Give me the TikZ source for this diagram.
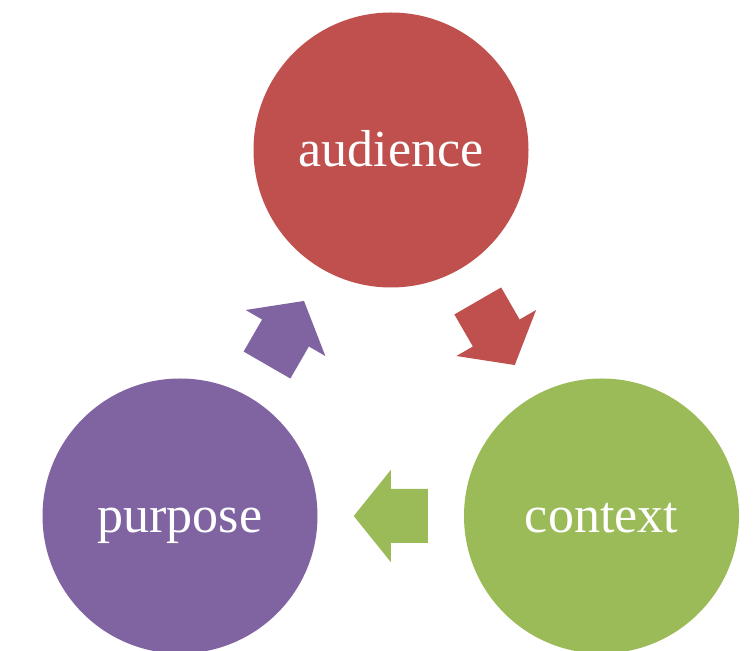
\documentclass[tikz,border=0pt]{standalone}
\usepackage{fontspec}
\setmainfont{Liberation Serif}
\usetikzlibrary{calc}
\definecolor{audred}{HTML}{C0504D}
\definecolor{ctxgreen}{HTML}{9BBB59}
\definecolor{purpurple}{HTML}{8064A2}
\tikzset{
  blob/.style={circle, minimum size=275pt, inner sep=0pt, draw=none,
    text=white, font=\fontsize{52}{60}\selectfont, text height=34pt, text depth=0pt},
  blockarrow/.pic={
    \fill[pic actions] (-37,27) -- (0,27) -- (0,46) -- (37,0) -- (0,-46) -- (0,-27) -- (-37,-27) -- cycle;
  }
}
\begin{document}
\begin{tikzpicture}[x=1pt,y=1pt]
\useasboundingbox (0,0) rectangle (756,651);
\node[blob, fill=audred] (aud) at (391,501) {audience};
\node[blob, fill=ctxgreen] (ctx) at (601.5,135) {context};
\node[blob, fill=purpurple] (pur) at (180,135) {purpose};
\pic[fill=audred, rotate=-60] at ($(aud.center)!0.5!(ctx.center)$) {blockarrow};
\pic[fill=ctxgreen, rotate=180] at ($(ctx.center)!0.5!(pur.center)$) {blockarrow};
\pic[fill=purpurple, rotate=60] at ($(pur.center)!0.5!(aud.center)$) {blockarrow};
\end{tikzpicture}
\end{document}
